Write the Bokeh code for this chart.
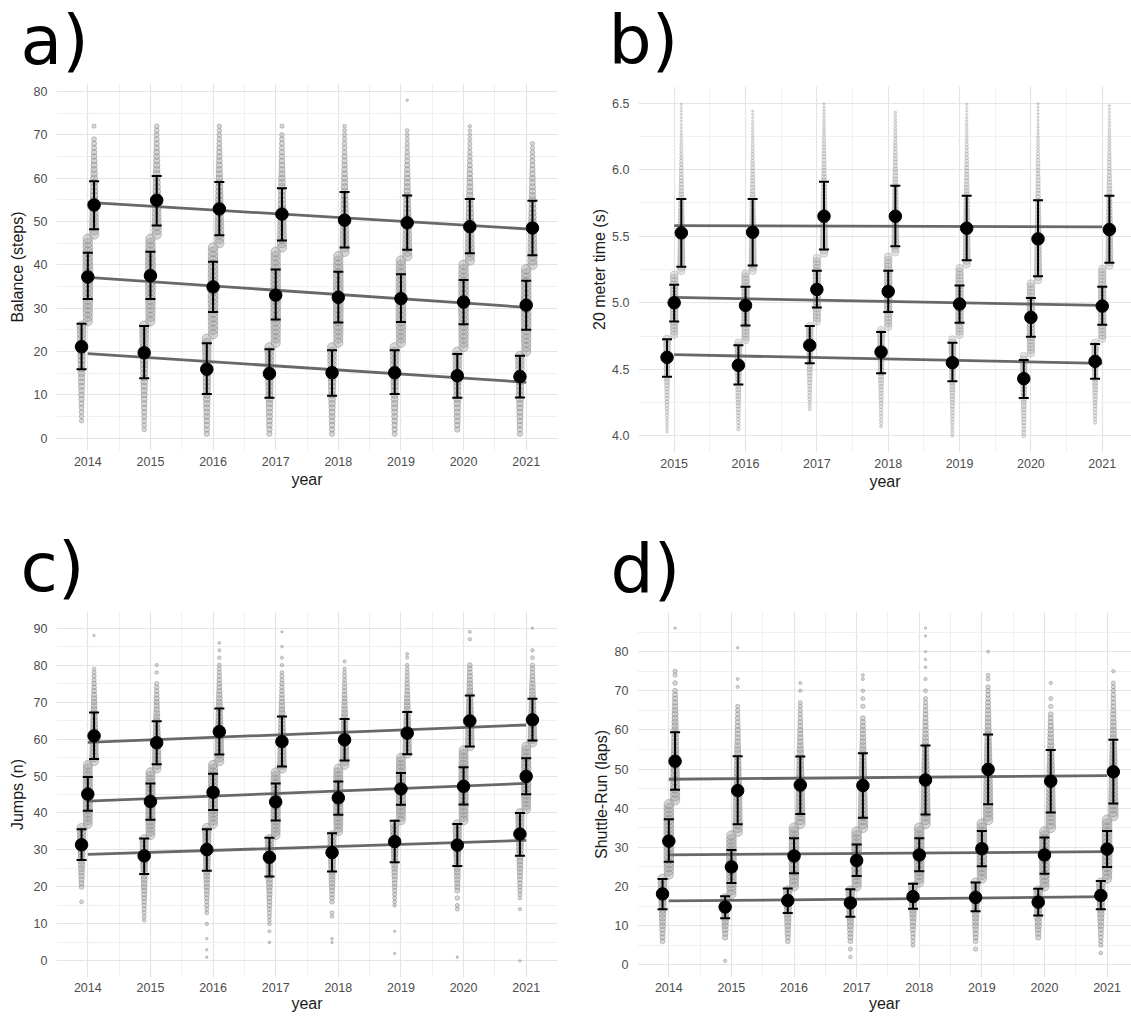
import numpy as np
from bokeh.plotting import figure
from bokeh.models import Range1d, FixedTicker, PrintfTickFormatter
from bokeh.layouts import column, row
from bokeh.embed import file_html
from bokeh.resources import INLINE
from bokeh.core.properties import value

FONT = "Liberation Sans"
LETTER_FONT = "DejaVu Sans"

# ---------------- data ----------------
years_acd = [2014, 2015, 2016, 2017, 2018, 2019, 2020, 2021]
years_b = [2015, 2016, 2017, 2018, 2019, 2020, 2021]

# a) Balance (steps): group means and mean-SD / mean+SD
a_low_mean = [21.1, 19.7, 15.9, 14.9, 15.1, 15.1, 14.4, 14.2]
a_low_lo = [15.9, 13.8, 10.2, 9.3, 9.8, 10.2, 9.3, 9.4]
a_low_hi = [26.4, 25.9, 21.9, 20.5, 20.3, 20.3, 19.4, 19.0]
a_mid_mean = [37.2, 37.5, 34.9, 33.0, 32.5, 32.2, 31.4, 30.7]
a_mid_lo = [32.1, 32.1, 29.1, 27.4, 26.7, 26.8, 26.3, 25.0]
a_mid_hi = [42.8, 43.0, 40.7, 38.9, 38.4, 37.8, 36.5, 36.3]
a_high_mean = [53.8, 54.9, 52.9, 51.7, 50.3, 49.7, 48.8, 48.5]
a_high_lo = [48.2, 49.1, 46.8, 45.6, 44.0, 43.5, 42.7, 42.2]
a_high_hi = [59.3, 60.5, 59.1, 57.7, 56.8, 56.0, 55.2, 54.8]
a_trend_low = [19.5, 12.9]
a_trend_mid = [37.1, 30.2]
a_trend_high = [54.4, 48.3]
a_min = [4, 2, 1, 1, 1, 1, 2, 1]
a_b1 = [27, 27, 24, 22, 22, 22, 21, 20]
a_b2 = [47, 47, 45, 44, 43, 42, 41, 40]
a_max = [69, 72, 72, 70, 72, 71, 72, 68]
a_out_low = {}
a_out_high = {2014: [72], 2017: [72], 2019: [78]}

# b) 20 meter time (s)
b_low_mean = [4.59, 4.53, 4.68, 4.63, 4.55, 4.43, 4.56]
b_low_lo = [4.445, 4.385, 4.545, 4.47, 4.41, 4.285, 4.43]
b_low_hi = [4.725, 4.68, 4.825, 4.78, 4.70, 4.57, 4.69]
b_mid_mean = [5.00, 4.98, 5.10, 5.085, 4.99, 4.89, 4.975]
b_mid_lo = [4.86, 4.83, 4.965, 4.93, 4.85, 4.745, 4.835]
b_mid_hi = [5.135, 5.12, 5.24, 5.24, 5.13, 5.035, 5.12]
b_high_mean = [5.525, 5.53, 5.65, 5.65, 5.56, 5.48, 5.55]
b_high_lo = [5.27, 5.28, 5.40, 5.425, 5.32, 5.20, 5.30]
b_high_hi = [5.78, 5.78, 5.91, 5.88, 5.805, 5.77, 5.805]
b_trend_low = [4.61, 4.545]
b_trend_mid = [5.04, 4.98]
b_trend_high = [5.58, 5.57]
b_min = [4.03, 4.05, 4.20, 4.07, 4.00, 4.00, 4.10]
b_b1 = [4.76, 4.72, 4.86, 4.82, 4.76, 4.62, 4.73]
b_b2 = [5.24, 5.24, 5.37, 5.38, 5.29, 5.17, 5.28]
b_max = [6.48, 6.44, 6.50, 6.44, 6.50, 6.50, 6.47]
b_out_low = {}
b_out_high = {}

# c) Jumps (n)
c_low_mean = [31.4, 28.4, 30.1, 28.0, 29.3, 32.25, 31.3, 34.3]
c_low_lo = [27.3, 23.5, 24.4, 22.8, 24.15, 26.7, 25.65, 28.4]
c_low_hi = [35.6, 33.1, 35.6, 33.3, 34.5, 37.9, 37.0, 40.0]
c_mid_mean = [45.1, 43.1, 45.6, 43.0, 44.1, 46.5, 47.2, 49.9]
c_mid_lo = [40.6, 38.2, 40.8, 38.0, 39.5, 42.2, 42.3, 45.1]
c_mid_hi = [49.7, 48.0, 50.6, 48.0, 48.5, 50.8, 52.4, 54.8]
c_high_mean = [60.85, 59.0, 62.0, 59.3, 59.8, 61.6, 64.9, 65.2]
c_high_lo = [54.6, 53.2, 55.8, 52.55, 54.2, 55.9, 58.0, 59.6]
c_high_hi = [67.2, 64.8, 68.25, 66.1, 65.4, 67.3, 71.8, 70.9]
c_trend_low = [28.8, 32.6]
c_trend_mid = [43.2, 48.0]
c_trend_high = [59.1, 63.8]
c_min = [20, 11, 13, 10, 16, 15, 19, 17]
c_b1 = [37, 34, 37, 34, 35, 38, 38, 41]
c_b2 = [54, 52, 54, 52, 53, 56, 58, 59]
c_max = [79, 75, 80, 78, 79, 80, 80, 80]
c_out_low = {2014: [16], 2016: [1, 3, 6, 10], 2017: [5, 8], 2018: [5, 6, 12, 13],
             2019: [2, 8], 2020: [1, 14, 15, 17], 2021: [0, 14]}
c_out_high = {2014: [88], 2015: [78, 80], 2016: [82, 84, 86], 2017: [80, 82, 85, 89],
              2018: [81], 2019: [82, 83], 2020: [87, 89], 2021: [82, 84, 90]}

# d) Shuttle-Run (laps)
d_low_mean = [18.1, 14.75, 16.4, 15.8, 17.4, 17.2, 16.0, 17.7]
d_low_lo = [14.2, 11.9, 13.2, 12.3, 14.3, 13.65, 12.6, 14.2]
d_low_hi = [21.9, 17.5, 19.5, 19.3, 20.7, 21.0, 19.4, 21.4]
d_mid_mean = [31.6, 25.0, 27.8, 26.65, 28.05, 29.65, 28.05, 29.55]
d_mid_lo = [26.3, 20.9, 23.4, 22.65, 23.9, 25.15, 23.25, 24.95]
d_mid_hi = [37.2, 29.3, 32.3, 30.75, 32.3, 34.2, 32.5, 34.2]
d_high_mean = [52.0, 44.5, 45.9, 45.8, 47.2, 49.9, 46.9, 49.3]
d_high_lo = [44.7, 35.9, 38.5, 37.55, 38.4, 41.0, 38.9, 41.2]
d_high_hi = [59.4, 53.3, 53.2, 54.05, 56.0, 58.8, 54.9, 57.5]
d_trend_low = [16.3, 17.4]
d_trend_mid = [28.1, 28.9]
d_trend_high = [47.4, 48.3]
d_min = [6, 7, 6, 6, 5, 6, 7, 5]
d_b1 = [23, 18, 20, 20, 21, 22, 20, 22]
d_b2 = [42, 34, 36, 35, 36, 37, 35, 38]
d_max = [70, 66, 67, 63, 68, 70, 64, 72]
d_out_low = {2015: [1], 2017: [2, 4], 2019: [4], 2021: [3]}
d_out_high = {2014: [72, 74, 75, 86], 2015: [71, 73, 81], 2016: [70, 72],
              2017: [66, 68, 70, 73, 74], 2018: [70, 73, 76, 78, 80, 84, 86],
              2019: [71, 73, 74, 80], 2020: [66, 68, 72], 2021: [75]}

panel_letters = ["a)", "b)", "c)", "d)"]
OFF = 0.1  # horizontal dodge of the three groups


def no_align(p):
    try:
        p.frame_align = False
    except Exception:
        pass


def count_points(years, lo_m, mid_m, hi_m, vmin, b1, b2, vmax, out_lo, out_hi, step, dmax,
                 dmin):
    xs, ys, ds = [], [], []
    for i, yr in enumerate(years):
        mu = mid_m[i]
        s_lo = (mu - lo_m[i]) / 1.09
        s_hi = (hi_m[i] - mu) / 1.09

        def add(xc, vals):
            for v in vals:
                s = s_lo if v < mu else s_hi
                z = (v - mu) / s
                xs.append(xc)
                ys.append(v)
                ds.append(max(dmin, dmax * np.exp(-z * z / 6.0)))

        def rng(a, b, incl):
            n = int(round((b - a) / step))
            return [round(a + k * step, 3) for k in range(n + (1 if incl else 0))]

        add(yr - OFF, rng(vmin[i], b1[i], False) + out_lo.get(yr, []))
        add(yr, rng(b1[i], b2[i], False))
        add(yr + OFF, rng(b2[i], vmax[i], True) + out_hi.get(yr, []))
    return xs, ys, ds


def make_fig(w, h, mbl, mbr, mbt, mbb, xr, yr, xticks, yticks, yminor, ylabel,
             ylab_standoff, xlab_standoff, xtick_standoff):
    p = figure(width=w, height=h, x_range=Range1d(*xr), y_range=Range1d(*yr),
               output_backend="svg", toolbar_location=None,
               min_border_left=mbl, min_border_right=mbr,
               min_border_top=mbt, min_border_bottom=mbb)
    no_align(p)
    p.outline_line_color = None
    p.background_fill_color = "white"
    p.border_fill_color = "white"
    p.xaxis.ticker = FixedTicker(ticks=xticks,
                                 minor_ticks=[t + 0.5 for t in [xticks[0] - 1] + xticks])
    p.yaxis.ticker = FixedTicker(ticks=yticks, minor_ticks=yminor)
    p.xaxis.axis_label = "year"
    p.yaxis.axis_label = ylabel
    for ax in (p.xaxis[0], p.yaxis[0]):
        ax.axis_line_color = None
        ax.major_tick_line_color = None
        ax.minor_tick_line_color = None
        ax.major_tick_out = 0
        ax.major_tick_in = 0
        ax.minor_tick_out = 0
        ax.minor_tick_in = 0
        ax.major_label_text_font = FONT
        ax.major_label_text_font_size = "12.5px"
        ax.major_label_text_color = "#4D4D4D"
        ax.axis_label_text_font = FONT
        ax.axis_label_text_font_size = "16px"
        ax.axis_label_text_font_style = "normal"
        ax.axis_label_text_color = "#1A1A1A"
    p.xaxis.major_label_standoff = xtick_standoff
    p.xaxis.axis_label_standoff = xlab_standoff
    p.yaxis.major_label_standoff = 9
    p.yaxis.axis_label_standoff = ylab_standoff
    p.grid.grid_line_color = "#E4E4E4"
    p.grid.grid_line_width = 1.2
    p.grid.minor_grid_line_color = "#EEEEEE"
    p.grid.minor_grid_line_width = 0.9
    return p


def draw(p, years, lo, mid, hi, trends, ext, outs, step, dmax, dmin, cap, galpha):
    xs, ys, ds = count_points(years, lo[0], mid[0], hi[0], ext[0], ext[1], ext[2], ext[3],
                              outs[0], outs[1], step, dmax, dmin)
    p.scatter(xs, ys, size=ds, fill_color="#9E9E9E", fill_alpha=galpha,
              line_color="#7F7F7F", line_alpha=min(1.0, galpha * 1.4), line_width=0.8)
    for tr in trends:
        p.line([years[0], years[-1]], tr, line_color="#686868", line_width=2.8)
    for off, g in ((-OFF, lo), (0.0, mid), (OFF, hi)):
        gx = [y + off for y in years]
        p.segment(gx, g[1], gx, g[2], line_color="black", line_width=2)
        p.segment([x - cap for x in gx], g[1], [x + cap for x in gx], g[1],
                  line_color="black", line_width=2)
        p.segment([x - cap for x in gx], g[2], [x + cap for x in gx], g[2],
                  line_color="black", line_width=2)
        p.scatter(gx, g[0], size=12.5, fill_color="black", line_color="black")


def letter_fig(w, h, txt, x, center_from_top):
    f = figure(width=w, height=h, x_range=Range1d(0, w), y_range=Range1d(0, h),
               output_backend="svg", toolbar_location=None, min_border=0,
               x_axis_type=None, y_axis_type=None)
    no_align(f)
    f.outline_line_color = None
    f.grid.visible = False
    f.text(x=[x], y=[h - center_from_top], text=[txt], text_font=value(LETTER_FONT),
           text_font_size="68px", text_color="black", text_baseline="middle",
           text_align="left")
    return f


WL, WR = 580, 551
HL1, HP1, HL2, HP2 = 80, 420, 109, 407

# panel a  (frame 56..557 x 83..450 on the page)
pa = make_fig(WL, HP1, 56, 23, 3, 50, (2013.5, 2021.5), (-2.85, 81.85), years_acd,
              list(range(0, 81, 10)), list(range(5, 81, 10)), "Balance (steps)", 5, 2, 6)
draw(pa, years_acd, (a_low_mean, a_low_lo, a_low_hi), (a_mid_mean, a_mid_lo, a_mid_hi),
     (a_high_mean, a_high_lo, a_high_hi), (a_trend_low, a_trend_mid, a_trend_high),
     (a_min, a_b1, a_b2, a_max), (a_out_low, a_out_high), 1, 10.0, 2.4, 0.08, 0.4)

# panel b
pb = make_fig(WR, HP1, 58, 0, 6, 48, (2014.5, 2021.41), (3.875, 6.625), years_b,
              [4.0, 4.5, 5.0, 5.5, 6.0, 6.5], [4.25, 4.75, 5.25, 5.75, 6.25],
              "20 meter time (s)", 1, 2, 6)
pb.yaxis.formatter = PrintfTickFormatter(format="%.1f")
draw(pb, years_b, (b_low_mean, b_low_lo, b_low_hi), (b_mid_mean, b_mid_lo, b_mid_hi),
     (b_high_mean, b_high_lo, b_high_hi), (b_trend_low, b_trend_mid, b_trend_high),
     (b_min, b_b1, b_b2, b_max), (b_out_low, b_out_high), 0.025, 8.0, 2.2, 0.07, 0.27)

# panel c
pc = make_fig(WL, HP2, 56, 23, 2, 39, (2013.5, 2021.5), (-4.5, 94.5), years_acd,
              list(range(0, 91, 10)), list(range(5, 91, 10)), "Jumps (n)", 5, 0, 5)
draw(pc, years_acd, (c_low_mean, c_low_lo, c_low_hi), (c_mid_mean, c_mid_lo, c_mid_hi),
     (c_high_mean, c_high_lo, c_high_hi), (c_trend_low, c_trend_mid, c_trend_high),
     (c_min, c_b1, c_b2, c_max), (c_out_low, c_out_high), 1, 9.5, 2.4, 0.08, 0.4)

# panel d
pd_ = make_fig(WR, HP2, 57, 0, 2, 39, (2013.5, 2021.39), (-3.25, 90.25), years_acd,
               list(range(0, 81, 10)), list(range(5, 90, 10)), "Shuttle-Run (laps)", 2, 0, 5)
draw(pd_, years_acd, (d_low_mean, d_low_lo, d_low_hi), (d_mid_mean, d_mid_lo, d_mid_hi),
     (d_high_mean, d_high_lo, d_high_hi), (d_trend_low, d_trend_mid, d_trend_high),
     (d_min, d_b1, d_b2, d_max), (d_out_low, d_out_high), 1, 10.0, 2.4, 0.08, 0.4)

la = letter_fig(WL, HL1, panel_letters[0], 20, 40)
lb = letter_fig(WR, HL1, panel_letters[1], 28, 40)
lc = letter_fig(WL, HL2, panel_letters[2], 20, 67)
ld = letter_fig(WR, HL2, panel_letters[3], 30, 69)

left = column(la, pa, lc, pc)
right = column(lb, pb, ld, pd_)
layout = row(left, right)
open("out.html", "w").write(file_html(layout, INLINE))
